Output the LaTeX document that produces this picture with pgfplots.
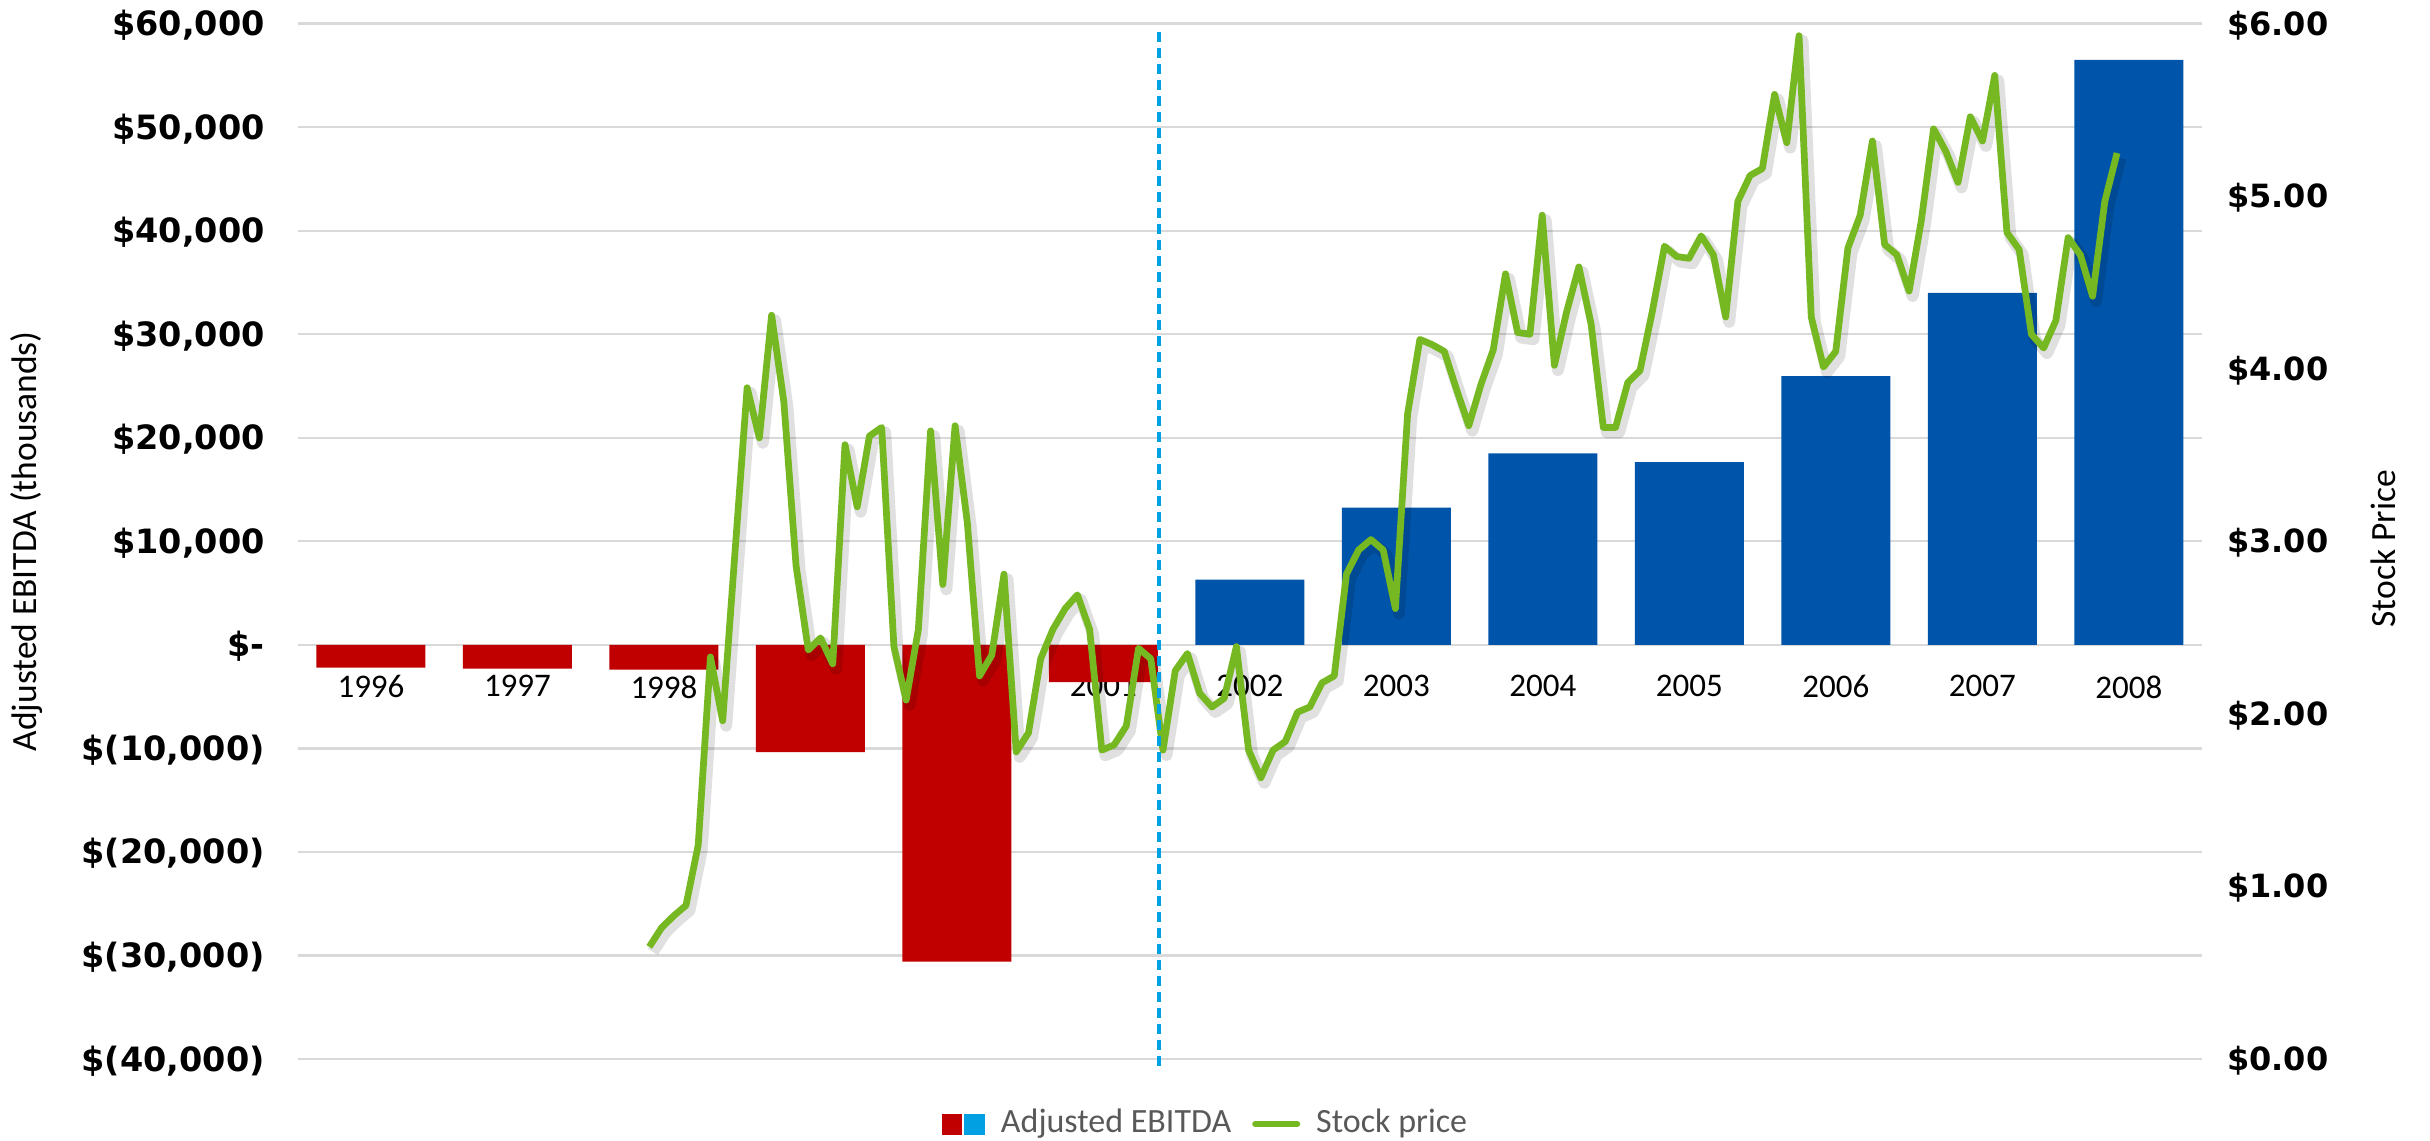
\documentclass[border=0pt]{standalone}
\usepackage{fontspec}
\setmainfont{Carlito}
\newfontfamily\tickfont{DejaVu Sans}
\usepackage{pgfplots}
\usepackage{pgfplotstable}
\pgfplotsset{compat=1.18}
\usetikzlibrary{calc}

\definecolor{ebred}{RGB}{192,0,0}
\definecolor{ebblue}{RGB}{0,85,170}
\definecolor{legblue}{RGB}{0,160,226}
\definecolor{stockgreen}{RGB}{118,184,34}
\definecolor{splitblue}{RGB}{0,162,228}
\definecolor{gridgray}{RGB}{217,217,217}
\definecolor{leggray}{RGB}{89,89,89}

% EBITDA by year, years at category 0..12 (1996..2008)
\pgfplotstableread{
x ebitda
0 -2200
1 -2300
2 -2400
3 -10350
4 -30600
5 -3600
}\negyears
\pgfplotstableread{
x ebitda
6 6300
7 13250
8 18500
9 17650
10 25950
11 34000
12 56500
}\posyears

% monthly stock price, k = month index
\pgfplotstableread{
k price
0 0.65
1 0.76
2 0.83
3 0.89
4 1.24
5 2.33
6 1.96
7 2.93
8 3.89
9 3.60
10 4.31
11 3.81
12 2.86
13 2.37
14 2.44
15 2.29
16 3.56
17 3.20
18 3.61
19 3.66
20 2.39
21 2.08
22 2.49
23 3.64
24 2.75
25 3.67
26 3.11
27 2.22
28 2.34
29 2.81
30 1.78
31 1.89
32 2.32
33 2.49
34 2.61
35 2.69
36 2.49
37 1.79
38 1.82
39 1.93
40 2.38
41 2.32
42 1.79
43 2.25
44 2.35
45 2.12
46 2.04
47 2.09
48 2.39
49 1.79
50 1.63
51 1.79
52 1.84
53 2.01
54 2.04
55 2.18
56 2.22
57 2.81
58 2.95
59 3.01
60 2.95
61 2.61
62 3.74
63 4.17
64 4.14
65 4.10
66 3.88
67 3.67
68 3.91
69 4.11
70 4.55
71 4.21
72 4.20
73 4.89
74 4.02
75 4.33
76 4.59
77 4.26
78 3.66
79 3.66
80 3.92
81 3.99
82 4.33
83 4.71
84 4.65
85 4.64
86 4.77
87 4.66
88 4.30
89 4.97
90 5.12
91 5.16
92 5.59
93 5.31
94 5.93
95 4.30
96 4.01
97 4.10
98 4.70
99 4.89
100 5.32
101 4.72
102 4.66
103 4.45
104 4.86
105 5.39
106 5.26
107 5.08
108 5.46
109 5.32
110 5.70
111 4.79
112 4.69
113 4.20
114 4.12
115 4.28
116 4.76
117 4.66
118 4.42
119 4.97
120 5.25
}\stock

\begin{document}
\begin{tikzpicture}
  \begin{axis}[
    scale only axis,
    width=380.85pt,
    height=207.08pt,
    xmin=-0.5, xmax=12.5,
    ymin=-40000, ymax=60000,
    axis line style={draw=none},
    major tick length=0pt,
    ymajorgrids,
    grid style={draw=gridgray, line width=0.45pt},
    xtick={0,...,12},
    xticklabels={1996,1997,1998,1999,2000,2001,2002,2003,2004,2005,2006,2007,2008},
    xticklabel style={font=\fontsize{6.6}{7}\selectfont, anchor=north, inner sep=0pt, yshift=76.9pt},
    ytick={-40000,-30000,-20000,-10000,0,10000,20000,30000,40000,50000,60000},
    yticklabels={{\$(40,000)},{\$(30,000)},{\$(20,000)},{\$(10,000)},{\$-\hspace{3.6pt}},
      {\$10,000\hspace{0.8pt}},{\$20,000\hspace{0.8pt}},{\$30,000\hspace{0.8pt}},{\$40,000\hspace{0.8pt}},
      {\$50,000\hspace{0.8pt}},{\$60,000\hspace{0.8pt}}},
    yticklabel style={font=\tickfont\fontsize{6.7}{7}\selectfont\bfseries, anchor=east, inner sep=0pt,
      xshift=-6.4pt, text height=4.9pt, text depth=0.1pt},
    ylabel={Adjusted EBITDA (thousands)},
    ylabel style={at={(axis description cs:-0.1422,0.5)}, anchor=center, font=\fontsize{7.1}{8}\selectfont},
  ]
    \addplot[ybar, bar width=0.744, bar shift=0pt, fill=ebred, draw=none] table[x=x, y=ebitda] {\negyears};
    \addplot[ybar, bar width=0.744, bar shift=0pt, fill=ebblue, draw=none] table[x=x, y=ebitda] {\posyears};
    \coordinate (sw) at (rel axis cs:0,0);
    \coordinate (ne) at (rel axis cs:1,1);
  \end{axis}

  \begin{axis}[
    scale only axis,
    width=380.85pt,
    height=207.08pt,
    xmin=-28.74, xmax=126.95,
    ymin=0, ymax=6,
    axis x line=none,
    axis y line*=right,
    axis line style={draw=none},
    xtick=\empty,
    major tick length=0pt,
    clip=false,
    ytick={0,1,2,3,4,5,6},
    yticklabels={\$0.00,\$1.00,\$2.00,\$3.00,\$4.00,\$5.00,\$6.00},
    yticklabel style={font=\tickfont\fontsize{6.4}{7}\selectfont\bfseries, anchor=west, inner sep=0pt,
      xshift=4.8pt, text height=4.7pt, text depth=0.1pt},
    ylabel={Stock Price},
    ylabel style={at={(axis description cs:1.09505,0.4928)}, anchor=center, font=\fontsize{7.1}{8}\selectfont},
    legend columns=2,
    legend style={at={(axis description cs:0.4762,-0.0628)}, anchor=center, draw=none, fill=none,
      font=\fontsize{6.8}{8}\selectfont, text=leggray, inner sep=0pt, nodes={inner sep=0pt},
      /tikz/every odd column/.append style={column sep=3.2pt},
      /tikz/every even column/.append style={column sep=4.2pt}},
  ]
    \addlegendimage{legend image code/.code={
        \fill[ebred] (0pt,-1.9pt) rectangle (3.7pt,1.9pt);
        \fill[legblue] (4.5pt,-1.9pt) rectangle (8.2pt,1.9pt);}}
    \addlegendentry{Adjusted EBITDA}
    \addplot[draw=black, opacity=0.12, line width=2.4pt, line join=round, xshift=0.7pt, yshift=-1pt, forget plot]
      table[x=k, y=price] {\stock};
    \addplot[stockgreen, line width=1.35pt, line join=round,
      legend image code/.code={\draw[stockgreen, line width=1.2pt, line cap=round] (0pt,0pt) -- (8.4pt,0pt);}]
      table[x=k, y=price] {\stock};
    \addlegendentry{Stock price}
    \addplot[splitblue, line width=0.65pt, dash pattern=on 2pt off 1.2pt, forget plot]
      coordinates {(41.68,-0.04) (41.68,5.95)};
  \end{axis}

  \pgfresetboundingbox
  \path[use as bounding box] ($(sw)+(-59.55pt,-16.2pt)$) rectangle ($(ne)+(45.6pt,4.72pt)$);
\end{tikzpicture}
\end{document}
